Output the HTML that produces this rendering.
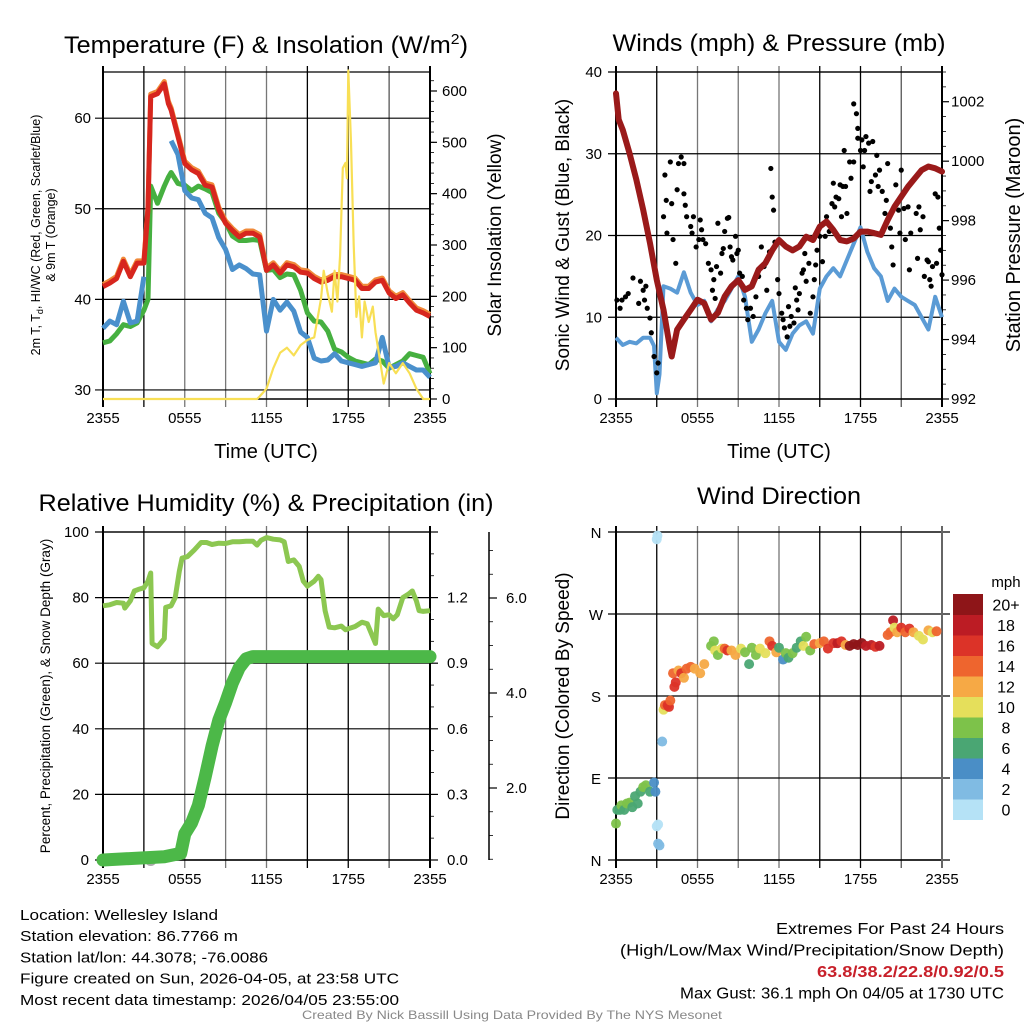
<!DOCTYPE html>
<html><head><meta charset="utf-8"><style>
html,body{margin:0;padding:0;background:#fff}
svg{display:block;font-family:"Liberation Sans",sans-serif}
</style></head><body>
<svg id="chart" width="1024" height="1024" viewBox="0 0 1024 1024" xmlns="http://www.w3.org/2000/svg"></svg>
<script>
// ---- Panel 1 data: temperature (F) & insolation ----
const hours = [0,0.5,1,1.5,2,2.5,3,3.3,3.5,4,4.5,4.8,5,5.5,6,6.5,7,7.5,8,8.5,9,9.5,10,10.5,11,11.5,12,12.5,13,13.5,14,14.5,15,15.5,16,16.5,17,17.5,18,18.5,19,19.5,20,20.5,21,21.5,22,22.5,23,23.5,24];
const tempRed = [41.4,41.8,42.3,44.2,42.5,44,44,50,62.4,62.7,63.8,61.6,60.9,58,55,54.3,53.9,52.6,52.4,49.9,48.4,47.6,46.9,47.3,47.3,46.9,43.2,43.8,42.9,43.8,43.6,43,42.9,42.3,41.9,42.1,42.5,42.5,42.3,42.1,41.2,41.2,41.9,42.1,40.7,40.1,40.5,39.6,38.8,38.5,38.1];
const tempGreen = [35.2,35.4,36.2,37.2,37,37.4,38.8,40,52.5,50.6,52.5,53.5,54,52.8,52.6,52,52.5,52.2,51.8,49.5,48.5,47,46.5,46.5,46.6,46.5,43.2,43.3,42.4,42.8,42.7,41,38.5,37.6,37.5,36.5,34.5,34.2,33.6,33.2,33,32.8,33.4,33.2,32.4,32.8,33.2,34,33.8,33.6,31.8];
const tempBlue = [36.8,37.6,37.2,39.8,37.4,37.6,42.5,null,null,null,null,null,57.5,56,52,51.2,51,49.5,49,46.8,45.5,43.3,43.8,43.4,42.8,42.7,36.5,40,38.8,39.7,38.7,36.4,35.8,33.5,33.2,33.3,34,33.2,33,32.8,32.6,32.8,33,35.8,32.5,32.6,33,32.6,32.2,32.2,31.4];
const solarHours = [0,11.3,11.5,12,12.5,13,13.5,14,14.5,15,15.5,16,16.2,16.5,16.8,17,17.2,17.4,17.6,17.8,17.9,18,18.2,18.4,18.6,18.8,19,19.2,19.5,19.8,20,20.3,20.6,21,21.5,22,22.5,23,23.5,24];
const solar = [0,0,5,20,60,90,100,85,105,115,120,195,250,205,170,250,190,280,450,460,430,640,500,300,160,200,120,190,150,180,130,80,30,70,50,70,50,20,0,0];
// ---- Panel 2 data: winds & pressure ----
const pressHours = [0,0.2,0.5,1,1.5,2,2.5,3,3.5,4,4.1,4.5,5,5.5,6,6.5,7,7.5,8,8.5,9,9.5,10,10.5,11,11.5,12,12.5,13,13.5,14,14.5,15,15.5,16,16.5,17,17.5,18,18.5,19,19.5,20,20.5,21,21.5,22,22.5,23,23.5,24];
const pressure = [1002.28,1001.4,1001.05,1000.26,999.37,998.36,997.24,996.0,995.0,993.66,993.43,994.33,994.67,995.0,995.34,995.22,994.67,994.9,995.45,995.79,996.0,995.67,995.79,996.35,996.57,997.0,997.35,997.13,997.0,997.13,997.46,997.35,997.8,997.97,997.69,997.35,997.3,997.4,997.63,997.63,997.58,997.52,998.02,998.47,998.81,999.14,999.42,999.7,999.82,999.76,999.65];
const windHours = [0,0.5,1,1.5,2,2.5,2.8,3,3.2,3.5,4,4.5,5,5.5,6,6.5,7,7.5,8,8.5,9,9.5,10,10.5,11,11.5,12,12.5,13,13.5,14,14.5,15,15.5,16,16.5,17,17.5,18,18.5,19,19.5,20,20.5,21,21.5,22,22.5,23,23.5,24];
const windSpeed = [7.5,6.6,7,6.8,7.5,7.5,6.5,0.7,3,13.8,13.5,13,15.5,13,11.5,12,9.5,11,12,13.5,15,12.5,7,8.5,10.5,12,7,6,8,9,9.5,8,13.5,15,16,15,17,19,21,18,16,15,12,13.5,12.5,12,11.5,10,8.5,12.5,10];
const gustT = [0.07,0.44,0.3,0.7,0.9,1.25,1.67,1.8,2.0,2.1,2.2,2.3,2.5,2.6,2.8,3.0,3.1,3.5,3.6,3.75,3.7,4.0,4.1,4.2,4.4,4.5,4.6,4.8,5.0,5.0,5.1,5.2,5.5,5.6,5.7,5.9,6.1,6.2,6.3,6.4,6.6,6.8,7.0,7.1,7.2,7.3,7.4,7.5,7.7,7.8,7.9,8.0,8.2,8.3,8.4,8.5,8.6,8.8,8.9,9.0,9.1,9.3,9.4,9.6,9.7,9.9,10.1,10.3,10.5,10.7,10.9,11.1,11.3,11.4,11.5,11.6,11.7,11.9,12.0,12.2,12.3,12.4,12.6,12.7,12.8,12.9,13.1,13.2,13.3,13.4,13.5,13.7,13.8,13.9,14.0,14.2,14.3,14.5,14.6,14.7,14.8,15.0,15.2,15.4,15.5,15.7,15.9,16.0,16.1,16.2,16.4,16.5,16.6,16.7,16.8,16.9,17.0,17.2,17.3,17.5,17.5,17.7,17.8,17.8,18.0,18.1,18.2,18.3,18.4,18.6,18.7,18.8,18.9,19.1,19.2,19.3,19.4,19.6,19.8,19.9,20.0,20.2,20.3,20.4,20.6,20.8,20.9,21.0,21.2,21.3,21.5,21.6,21.7,21.9,22.1,22.2,22.3,22.4,22.6,22.7,22.9,23.0,23.1,23.2,23.3,23.5,23.6,23.7,23.8,23.9,24.0];
const gustV = [12.1,12.1,11.1,12.5,12.9,14.8,11.7,14.4,13.3,12.1,13.8,11.1,9.9,8.1,5.2,3.2,4.4,22.3,27.4,20.3,24.3,29.0,23.9,19.5,16.6,25.6,28.8,29.6,28.8,25.1,23.7,22.3,21.1,20.3,22.3,18.6,19.5,21.9,20.7,19.5,19.0,16.6,15.8,13.3,14.6,12.3,16.2,21.5,15.4,17.8,18.4,20.5,22.1,22.2,18.6,17.4,17.0,19.9,17.8,18.2,15.4,15.0,12.1,11.1,9.7,11.1,10.1,12.5,15.0,18.6,16.2,13.3,18.0,28.2,24.7,23.1,19.2,14.6,12.9,10.5,9.7,8.7,7.6,11.3,8.9,10.1,9.3,13.6,12.1,10.9,12.9,15.4,15.8,17.8,14.4,16.6,10.5,12.5,14.6,16.4,18.2,19.9,16.8,19.9,22.3,20.5,23.9,26.4,23.5,24.7,24.5,26.2,22.3,26.0,30.4,26.0,22.7,29.0,27.0,29.0,36.1,34.9,33.1,31.9,30.4,31.7,28.4,30.4,32.1,31.3,25.4,26.6,31.5,27.4,29.8,26.0,28.0,25.4,22.7,24.3,28.8,20.9,18.6,16.4,26.2,23.1,20.3,28.0,23.3,19.5,23.5,15.8,20.3,26.8,22.7,17.2,23.5,20.7,22.3,15.0,17.0,16.8,14.6,13.8,16.2,25.1,16.6,24.7,20.9,18.2,15.2];
// ---- Panel 3 data: RH & precipitation ----
const rhHours = [0,0.5,1,1.5,1.6,2,2.3,2.6,3,3.3,3.5,3.6,4,4.5,4.6,5,5.3,5.6,5.8,6.2,6.7,7.2,7.6,8,8.5,9,9.5,10,10.5,11,11.3,11.6,12,12.5,13,13.3,13.6,14,14.4,14.7,15,15.5,15.8,16,16.3,16.6,17,17.5,17.8,18,18.5,19,19.4,19.8,20,20.2,20.6,21,21.3,21.6,22,22.4,22.7,23,23.2,23.5,24];
const rh = [77.5,77.8,78.5,78.3,76.8,79,82,82.5,83,85,87.5,66,65,67.5,77,77.5,80,88,92,92.5,94.5,96.8,96.8,96.2,96.6,96.5,97,97,97.2,97.2,96,97.5,98.3,97.8,97.6,97,91,91.5,89.5,85,83.5,85,86.5,85.5,76,71,70.8,71.3,70.2,70.5,71.2,72.5,72,68,66,76.5,74.5,74.8,73.5,74.8,80,81,82,79,76,75.8,76];
const precipHours = [0,4.5,5.7,6,6.5,7,7.5,8,8.5,9,9.5,10,10.5,11,24];
const precip = [0,0.015,0.03,0.12,0.17,0.25,0.38,0.52,0.64,0.72,0.81,0.88,0.92,0.93,0.93];
// ---- Panel 4 data: wind direction colored by speed ----
const dirT = [0,0.1,0.3,0.4,0.6,0.8,1.0,1.2,1.4,1.6,1.8,2.0,2.2,2.5,2.8,2.9,3.0,3.05,3.0,3.1,3.2,3.1,3.4,3.5,3.6,3.8,3.9,4.0,4.2,4.3,4.4,4.6,4.8,5.0,5.2,5.5,5.8,6.2,6.5,7.0,7.2,7.3,7.5,7.8,8.0,8.2,8.5,8.8,9.2,9.5,9.8,10.0,10.3,10.6,11.0,11.3,11.5,11.8,12.0,12.3,12.5,12.7,13.0,13.3,13.6,13.8,14.0,14.3,14.6,15.0,15.3,15.6,16.0,16.3,16.6,16.9,17.2,17.5,17.8,18.1,18.4,18.8,19.1,19.4,20.0,20.2,20.4,20.5,20.7,21.0,21.3,21.6,21.9,22.3,22.6,23.0,23.3,23.6];
const dirDeg = [40,55,55,60,55,62,63,58,70,62,75,80,82,75,85,75,352,356,37,39,16,18,130,165,170,170,168,175,205,190,195,208,205,200,210,212,210,205,215,235,240,230,225,232,232,230,230,225,232,228,215,233,225,232,227,240,235,228,233,220,227,222,227,233,240,235,245,230,237,238,240,232,238,238,240,236,235,237,236,238,235,236,234,235,247,250,263,255,250,255,250,254,250,246,242,252,250,251];
const dirSpd = [8,6,6,8,6,8,8,6,6,6,6,8,8,6,4,4,0,0,0,0,2,2,2,10,14,16,16,14,14,16,16,12,16,12,14,14,12,12,12,8,8,10,8,10,14,16,12,12,10,8,6,8,8,10,10,14,16,12,6,4,8,6,8,6,6,10,8,8,14,12,14,16,16,18,16,12,20,20,20,20,18,18,16,18,14,14,18,10,12,16,14,16,12,10,10,12,10,14];
const colorLevels = ['0','2','4','6','8','10','12','14','16','18','20+'];
const colorFills = ['#b5e2f6','#80bbe3','#4a8ec6','#4aa673','#7dc24a','#e5df5b','#f6a945','#ee652e','#dc3328','#bc1c24','#8e1518'];
const timeTicks = ['2355','0555','1155','1755','2355'];

const NS='http://www.w3.org/2000/svg';
const svg=document.getElementById('chart');
function el(tag,attrs,parent){const e=document.createElementNS(NS,tag);for(const k in attrs)e.setAttribute(k,attrs[k]);(parent||svg).appendChild(e);return e;}
function txt(s,x,y,size,attrs,parent){const t=el('text',Object.assign({x:x,y:y,'font-size':size,fill:'#000'},attrs||{}),parent);t.textContent=s;return t;}
function lin(x0,x1,d0,d1){return v=>x0+(v-d0)/(d1-d0)*(x1-x0);}
function pathFrom(xs,ys,sx,sy){let d='',pen=false;for(let i=0;i<xs.length;i++){if(ys[i]===null){pen=false;continue;}d+=(pen?'L':'M')+sx(xs[i]).toFixed(1)+','+sy(ys[i]).toFixed(1);pen=true;}return d;}
function speedColor(s){let i=Math.min(10,Math.max(0,Math.round(s/2)));return colorFills[i];}

function frame(g,x0,x1,y0,y1,yTicks,sy,hlineRight){
  const sx=lin(x0,x1,0,24);
  const cols=['#000','#000','#777','#777','#777','#000','#000','#555','#000'];
  for(let i=0;i<=8;i++){const x=sx(i*3);const l=el('line',{x1:x,x2:x,y1:y0-6,y2:y1+8,stroke:cols[i],'stroke-width':i===0||i===8?2:1.3},g);
    }
  yTicks.forEach(v=>{const y=sy(v);const l=el('line',{x1:x0-8,x2:hlineRight||x1,y1:y,y2:y,stroke:'#000','stroke-width':1.2},g);
    });
  el('line',{x1:x0,x2:x1,y1:y1,y2:y1,stroke:'#000','stroke-width':1.5},g);
  el('line',{x1:x0,x2:x1,y1:y0,y2:y0,stroke:'#000','stroke-width':1.3},g);
  timeTicks.forEach((t,i)=>{const tl=txt(t,sx(i*6),y1+24,15,{'text-anchor':'middle'},g);
    });
  return sx;
}

// ===== Panel 1 =====
(function(){
  const g=el('g',{});
  const x0=103,x1=430,y0=72,y1=399;
  const sy=lin(y1,y0,29,65.1), sr=lin(y1,y0,0,637);
  const sx=frame(g,x0,x1,y0,y1,[30,40,50,60],sy);
  [30,40,50,60].forEach(v=>{const t=txt(String(v),x0-12,sy(v)+5,15,{'text-anchor':'end'},g);});
  [0,100,200,300,400,500,600].forEach(v=>{el('line',{x1:x1,x2:x1+7,y1:sr(v),y2:sr(v),stroke:'#000','stroke-width':1.2},g);const t=txt(String(v),x1+12,sr(v)+5,15,{},g);});
  for(let v=20;v<637;v+=20){el('line',{x1:x1,x2:x1+4,y1:sr(v),y2:sr(v),stroke:'#000','stroke-width':0.8},g);}
  el('line',{x1:x1,x2:x1,y1:y0,y2:y1,stroke:'#000','stroke-width':2},g);
  const orange=tempRed.map(v=>v+0.25);
  let p;
  p=el('path',{d:pathFrom(hours,tempGreen,sx,sy),fill:'none',stroke:'#46b040','stroke-width':5,'stroke-linejoin':'round'},g);
  p=el('path',{d:pathFrom(hours,tempBlue,sx,sy),fill:'none',stroke:'#4a90cc','stroke-width':5,'stroke-linejoin':'round'},g);
  p=el('path',{d:pathFrom(hours,orange,sx,sy),fill:'none',stroke:'#f08a3a','stroke-width':5,'stroke-linejoin':'round'},g);
  p=el('path',{d:pathFrom(hours,tempRed,sx,sy),fill:'none',stroke:'#d7261e','stroke-width':5,'stroke-linejoin':'round'},g);
  p=el('path',{d:pathFrom(solarHours,solar,sx,sr),fill:'none',stroke:'#f8df55','stroke-width':2.2,'stroke-linejoin':'round'},g);
  let t=txt('',266,53,24,{'text-anchor':'middle',textLength:404,lengthAdjust:'spacingAndGlyphs'},g);t.innerHTML='Temperature (F) &amp; Insolation (W/m<tspan dy="-9" font-size="15">2</tspan><tspan dy="9">)</tspan>';
  t=txt('Time (UTC)',266,458,20,{'text-anchor':'middle'},g);
  t=txt('',0,0,12.5,{'text-anchor':'middle',transform:'translate(40,235) rotate(-90)'},g);t.innerHTML='2m T, T<tspan dy="3" font-size="9">d</tspan><tspan dy="-3">, HI/WC (Red, Green, Scarlet/Blue)</tspan>';
  t=txt('& 9m T (Orange)',0,0,12.5,{'text-anchor':'middle',transform:'translate(55,235) rotate(-90)'},g);
  t=txt('Solar Insolation (Yellow)',0,0,19,{'text-anchor':'middle',transform:'translate(501,235) rotate(-90)'},g);
})();

// ===== Panel 2 =====
(function(){
  const g=el('g',{});
  const x0=616,x1=942,y0=72,y1=399;
  const sy=lin(y1,y0,0,40), sp=lin(y1,y0,992,1003);
  const sx=frame(g,x0,x1,y0,y1,[0,10,20,30,40],sy);
  [0,10,20,30,40].forEach(v=>{const t=txt(String(v),x0-14,sy(v)+5,15,{'text-anchor':'end'},g);});
  for(let v=992;v<=1003;v+=0.5){const maj=v%2===0;el('line',{x1:x1,x2:x1+(maj?7:4),y1:sp(v),y2:sp(v),stroke:'#000','stroke-width':maj?1.2:0.8},g);
    if(maj){const t=txt(String(v),x1+9,sp(v)+5,15,{},g);}}
  el('line',{x1:x1,x2:x1,y1:y0,y2:y1,stroke:'#000','stroke-width':2},g);
  el('line',{x1:x0,x2:x0,y1:y0,y2:y1,stroke:'#000','stroke-width':2},g);
  let p=el('path',{d:pathFrom(windHours,windSpeed,sx,sy),fill:'none',stroke:'#5b9bd5','stroke-width':4,'stroke-linejoin':'round'},g);
  gustT.forEach((h,i)=>{const c=el('circle',{cx:sx(h),cy:sy(gustV[i]),r:2.6,fill:'#000'},g);});
  p=el('path',{d:pathFrom(pressHours,pressure,sx,sp),fill:'none',stroke:'#9a1a1a','stroke-width':6,'stroke-linejoin':'round','stroke-linecap':'round'},g);
  let t=txt('Winds (mph) & Pressure (mb)',779,51,24,{'text-anchor':'middle',textLength:333,lengthAdjust:'spacingAndGlyphs'},g);
  t=txt('Time (UTC)',779,458,20,{'text-anchor':'middle'},g);
  t=txt('Sonic Wind & Gust (Blue, Black)',0,0,19,{'text-anchor':'middle',transform:'translate(569,235) rotate(-90)'},g);
  t=txt('Station Pressure (Maroon)',0,0,20,{'text-anchor':'middle',transform:'translate(1020,235) rotate(-90)'},g);
})();

// ===== Panel 3 =====
(function(){
  const g=el('g',{});
  const x0=103,x1=430,y0=532,y1=860;
  const sy=lin(y1,y0,0,100), sp=lin(y1,y0,0,1.5), ss=lin(883,598,0,6);
  const sx=frame(g,x0,x1,y0,y1,[0,20,40,60,80,100],sy);
  [0,20,40,60,80,100].forEach(v=>{const t=txt(String(v),x0-14,sy(v)+5,15,{'text-anchor':'end'},g);});
  for(let v=0;v<=1.5001;v+=0.1){const maj=Math.round(v*10)%3===0;el('line',{x1:x1,x2:x1+(maj?8:4),y1:sp(v),y2:sp(v),stroke:'#000','stroke-width':maj?1.2:0.8},g);
    if(maj&&v<1.45){const t=txt(v.toFixed(1),x1+17,sp(v)+5,15,{},g);}}
  el('line',{x1:x1,x2:x1,y1:y0,y2:y1,stroke:'#000','stroke-width':2},g);
  el('line',{x1:x0,x2:x0,y1:y0,y2:y1,stroke:'#000','stroke-width':2},g);
  el('line',{x1:489,x2:489,y1:y0,y2:y1,stroke:'#000','stroke-width':1.5},g);
  for(let v=0.5;v<=7;v+=0.5){const y=ss(v);if(y<y0-1||y>y1+1)continue;const maj=Math.round(v*2)%4===0;el('line',{x1:489,x2:489+(maj?8:4),y1:y,y2:y,stroke:'#000','stroke-width':maj?1.2:0.8},g);
    if(maj){const t=txt(v.toFixed(1),506,y+5,15,{},g);}}
  let p=el('path',{d:pathFrom(rhHours,rh,sx,sy),fill:'none',stroke:'#8cc751','stroke-width':5,'stroke-linejoin':'round'},g);
  const c=el('circle',{cx:sx(3.5),cy:y1,r:6,fill:'#aaa'},g);
  p=el('path',{d:pathFrom(precipHours,precip,sx,sp),fill:'none',stroke:'#4cb848','stroke-width':13,'stroke-linejoin':'round','stroke-linecap':'round'},g);
  let t=txt('Relative Humidity (%) & Precipitation (in)',266,511,24,{'text-anchor':'middle',textLength:455,lengthAdjust:'spacingAndGlyphs'},g);
  t=txt('Percent, Precipitation (Green), & Snow Depth (Gray)',0,0,13.5,{'text-anchor':'middle',transform:'translate(50,696) rotate(-90)'},g);
})();

// ===== Panel 4 =====
(function(){
  const g=el('g',{});
  const x0=616,x1=942,y0=532,y1=860;
  const sy=lin(y1,y0,0,360);
  const sx=frame(g,x0,x1,y0,y1,[0,90,180,270,360],sy,950);
  ['N','E','S','W','N'].forEach((s,i)=>{const t=txt(s,x0-20,sy(i*90)+6,15,{'text-anchor':'middle'},g);});
  el('line',{x1:x0,x2:x0,y1:y0-6,y2:y1+8,stroke:'#000','stroke-width':2},g);
  el('line',{x1:x1,x2:x1,y1:y0-6,y2:y1+8,stroke:'#666','stroke-width':2},g);
  dirT.forEach((h,i)=>{const c=el('circle',{cx:sx(h),cy:sy(dirDeg[i]),r:5,fill:speedColor(dirSpd[i]),'fill-opacity':0.95},g);});
  const cb0=594,ch=20.5;
  colorLevels.forEach((lab,i)=>{const y=cb0+(10-i)*ch;const r=el('rect',{x:953,y:y,width:30,height:ch+0.5,fill:colorFills[i]},g);
    const t=txt(lab,1006,y+ch/2+6,16,{'text-anchor':'middle'},g);});
  let t=txt('mph',1006,587,15,{'text-anchor':'middle'},g);
  t=txt('Wind Direction',779,504,24,{'text-anchor':'middle',textLength:164,lengthAdjust:'spacingAndGlyphs'},g);
  t=txt('Direction (Colored By Speed)',0,0,19,{'text-anchor':'middle',transform:'translate(569,696) rotate(-90)'},g);
})();

// ===== Footer text =====
(function(){
  const g=el('g',{});
  const left=[['Location: Wellesley Island',198],['Station elevation: 86.7766 m',218],['Station lat/lon: 44.3078; -76.0086',248],['Figure created on Sun, 2026-04-05, at 23:58 UTC',379],['Most recent data timestamp: 2026/04/05 23:55:00',379]];
  left.forEach((l,i)=>{const t=txt(l[0],20,920+i*21.2,15,{textLength:l[1],lengthAdjust:'spacingAndGlyphs'},g);});
  const right=[['Extremes For Past 24 Hours',776,{}],['(High/Low/Max Wind/Precipitation/Snow Depth)',620,{}],['63.8/38.2/22.8/0.92/0.5',817,{fill:'#c8202a','font-weight':'bold'}],['Max Gust: 36.1 mph On 04/05 at 1730 UTC',680,{}]];
  right.forEach((l,i)=>{const t=txt(l[0],l[1],934+i*21.5,15.5,Object.assign({textLength:1004-l[1],lengthAdjust:'spacingAndGlyphs'},l[2]),g);});
  const t=txt('Created By Nick Bassill Using Data Provided By The NYS Mesonet',302,1019,12,{fill:'#888',textLength:420,lengthAdjust:'spacingAndGlyphs'},g);
})();
</script>
</body></html>
